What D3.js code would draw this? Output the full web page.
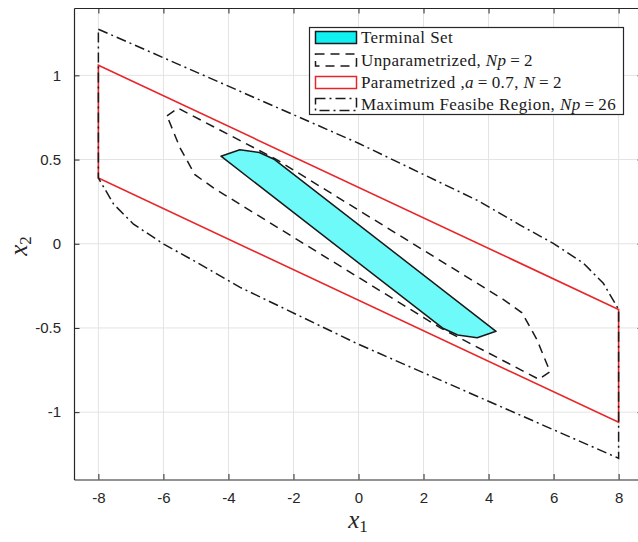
<!DOCTYPE html>
<html><head><meta charset="utf-8">
<script src="https://cdn.jsdelivr.net/npm/d3@7"></script>
<style>body{margin:0;background:#fff;overflow:hidden}</style>
</head><body><svg id="c" width="638" height="542"></svg>
<script>
// ---- data ----
const xTicks = [-8, -6, -4, -2, 0, 2, 4, 6, 8];
const yTicks = [-1, -0.5, 0, 0.5, 1];
const xTickLabels = ["-8", "-6", "-4", "-2", "0", "2", "4", "6", "8"];
const yTickLabels = ["-1", "-0.5", "0", "0.5", "1"];

const terminalSet = [[-4.23, 0.52], [-3.65, 0.558], [-3.05, 0.542], [-2.58, 0.5],
  [4.23, -0.52], [3.65, -0.558], [3.05, -0.542], [2.58, -0.5]];
const unparametrized = [[-5.89, 0.76], [-5.55, 0.805], [-2.52, 0.5], [4.45, -0.33],
  [5.03, -0.41], [5.49, -0.57], [5.89, -0.76], [5.55, -0.805], [2.52, -0.5],
  [-4.45, 0.33], [-5.03, 0.41], [-5.49, 0.57]];
const parametrized = [[-8, 1.06], [8, -0.39], [8, -1.06], [-8, 0.39]];
const maxFeasible = [[-8, 1.274], [0, 0.597], [3.64, 0.259], [4.97, 0.111], [5.99, 0.002],
  [6.92, -0.116], [7.53, -0.235], [7.89, -0.354], [8, -0.39], [8, -1.274],
  [0, -0.597], [-3.64, -0.259], [-4.97, -0.111], [-5.99, -0.002], [-6.92, 0.116],
  [-7.53, 0.235], [-7.89, 0.354], [-8, 0.39]];

const legendLabels = [
  [["Terminal Set", false]],
  [["Unparametrized, ", false], ["Np", true], ["\u2009=\u20092", false]],
  [["Parametrized ,", false], ["a", true], ["\u2009=\u20090.7, ", false], ["N", true], ["\u2009=\u20092", false]],
  [["Maximum Feasibe Region, ", false], ["Np", true], ["\u2009=\u200926", false]]
];

// ---- layout ----
const svg = d3.select("#c");
const L = 74, R = 643, T = 8, B = 479.5;
const x = d3.scaleLinear().domain([-8.75, 8.75]).range([L, R]);
const y = d3.scaleLinear().domain([-1.4, 1.4]).range([B, T]);
const axisColor = "#262626";
const tickFont = "'Liberation Sans', Arial, sans-serif";
const serif = "'Liberation Serif', 'Times New Roman', serif";

// grid
const g = svg.append("g");
g.selectAll(".gx").data(xTicks).enter().append("line")
  .attr("x1", d => x(d)).attr("x2", d => x(d)).attr("y1", T).attr("y2", B)
  .attr("stroke", "#e3e3e3").attr("stroke-width", 1);
g.selectAll(".gy").data(yTicks).enter().append("line")
  .attr("y1", d => y(d)).attr("y2", d => y(d)).attr("x1", L).attr("x2", R)
  .attr("stroke", "#e3e3e3").attr("stroke-width", 1);

// shapes
const line = d3.line().x(d => x(d[0])).y(d => y(d[1]));
const closed = pts => line(pts) + "Z";

svg.append("path").attr("d", closed(terminalSet))
  .attr("fill", "#6ffafa").attr("stroke", "#1a1a1a").attr("stroke-width", 1.5)
  .attr("stroke-linejoin", "round");
svg.append("path").attr("d", closed(unparametrized))
  .attr("fill", "none").attr("stroke", "#1a1a1a").attr("stroke-width", 1.5)
  .attr("stroke-dasharray", "9,6");
svg.append("path").attr("d", closed(parametrized))
  .attr("fill", "none").attr("stroke", "#e8262a").attr("stroke-width", 1.6);
svg.append("path").attr("d", closed(maxFeasible))
  .attr("fill", "none").attr("stroke", "#1a1a1a").attr("stroke-width", 1.5)
  .attr("stroke-dasharray", "10,4,2,4");

// axes via d3
const ax = svg.append("g").attr("transform", `translate(0,${B})`)
  .call(d3.axisBottom(x).tickValues(xTicks).tickFormat((d, i) => xTickLabels[i])
    .tickSizeInner(-5.5).tickSizeOuter(0).tickPadding(13));
const axT = svg.append("g").attr("transform", `translate(0,${T})`)
  .call(d3.axisTop(x).tickValues(xTicks).tickFormat("").tickSizeInner(-5.5).tickSizeOuter(0));
const ay = svg.append("g").attr("transform", `translate(${L},0)`)
  .call(d3.axisLeft(y).tickValues(yTicks).tickFormat((d, i) => yTickLabels[i])
    .tickSizeInner(-5.5).tickSizeOuter(0).tickPadding(13));
const ayR = svg.append("g").attr("transform", `translate(${R},0)`)
  .call(d3.axisRight(y).tickValues(yTicks).tickFormat("").tickSizeInner(-5.5).tickSizeOuter(0));
[ax, axT, ay, ayR].forEach(a => {
  a.select(".domain").attr("stroke", axisColor).attr("stroke-width", 1.2);
  a.selectAll(".tick line").attr("stroke", axisColor).attr("stroke-width", 1);
  a.selectAll("text").attr("fill", axisColor).style("font-family", tickFont).style("font-size", "15px");
});

// axis labels
const xl = svg.append("text").attr("x", 358).attr("y", 528).attr("text-anchor", "middle")
  .style("font-family", serif).style("font-size", "25px").attr("fill", axisColor);
xl.append("tspan").style("font-style", "italic").text("x");
xl.append("tspan").attr("font-size", "17px").attr("dy", 4).text("1");
const yl = svg.append("text").attr("transform", "translate(27,246) rotate(-90)")
  .attr("text-anchor", "middle")
  .style("font-family", serif).style("font-size", "25px").attr("fill", axisColor);
yl.append("tspan").style("font-style", "italic").text("x");
yl.append("tspan").attr("font-size", "17px").attr("dy", 4).text("2");

// legend
const lg = svg.append("g");
lg.append("rect").attr("x", 309.5).attr("y", 27.5).attr("width", 314).attr("height", 87)
  .attr("fill", "#fff").attr("stroke", axisColor).attr("stroke-width", 1.2);
const rowY = [37.5, 60, 82.5, 104.5];
const iconStyles = [
  {fill: "#10f0f0", stroke: "#1a1a1a", dash: null},
  {fill: "none", stroke: "#1a1a1a", dash: "9,6"},
  {fill: "none", stroke: "#e8262a", dash: null},
  {fill: "none", stroke: "#1a1a1a", dash: "10,4,2,4"}
];
legendLabels.forEach((segs, i) => {
  const s = iconStyles[i];
  lg.append("rect").attr("x", 315.5).attr("y", rowY[i] - 6).attr("width", 41).attr("height", 12)
    .attr("fill", s.fill).attr("stroke", s.stroke).attr("stroke-width", 1.5)
    .attr("stroke-dasharray", s.dash);
  const t = lg.append("text").attr("x", 361).attr("y", rowY[i] + 5.5)
    .style("font-family", serif).style("font-size", "17px").style("letter-spacing", "0.42px")
    .attr("fill", "#1a1a1a");
  segs.forEach(([txt, it]) => t.append("tspan").style("font-style", it ? "italic" : "normal")
    .attr("xml:space", "preserve").text(txt));
});
</script></body></html>
